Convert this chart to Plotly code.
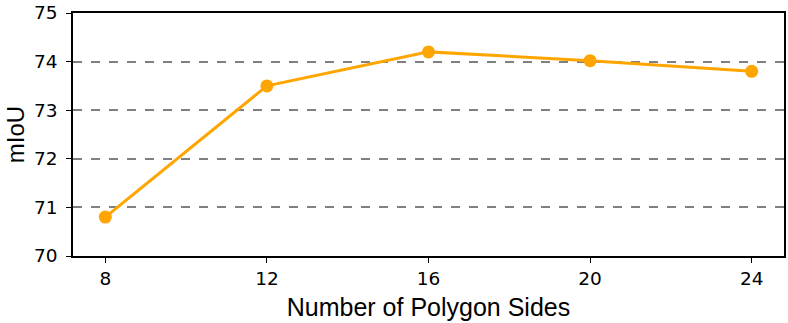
import plotly.graph_objects as go

sides = [8, 12, 16, 20, 24]
miou = [70.8, 73.5, 74.2, 74.02, 73.8]
y_ticks = [70, 71, 72, 73, 74, 75]

fig = go.Figure()
fig.add_trace(go.Scatter(
    x=sides, y=miou, mode="lines+markers",
    line=dict(color="#FFA500", width=3),
    marker=dict(size=13, color="#FFA500"),
    showlegend=False,
))

fig.update_layout(
    width=788, height=323,
    plot_bgcolor="white", paper_bgcolor="white",
    margin=dict(l=73, r=4, t=13, b=67),
    font=dict(family="DejaVu Sans", color="black"),
    xaxis=dict(
        range=[7.2, 24.8], tickvals=sides, ticks="outside", ticklen=5,
        tickwidth=1.2, tickcolor="black", showgrid=False, zeroline=False,
        showline=True, linecolor="black", linewidth=1.5, mirror=True,
        tickfont=dict(size=18.5), ticklabelstandoff=0, automargin=False,
        ticklabeloverflow="allow",
        title=dict(text="Number of Polygon Sides",
                   font=dict(size=25, family="Liberation Sans"), standoff=11),
    ),
    yaxis=dict(
        range=[70, 75], tickvals=y_ticks, ticks="outside", ticklen=5,
        tickwidth=1.2, tickcolor="black", showgrid=True, gridcolor="gray",
        griddash="dash", gridwidth=1.5, zeroline=False,
        showline=True, linecolor="black", linewidth=1.5, mirror=True,
        tickfont=dict(size=18.5), ticklabelstandoff=5, automargin=False,
        ticklabeloverflow="allow",
        title=dict(text="mIoU", font=dict(size=24, family="Liberation Sans"), standoff=3),
    ),
)

# drop the default 8px body margin so the figure fills the window
fig.write_html("out.html", config={"displayModeBar": False},
               post_script="document.body.style.margin='0';")
